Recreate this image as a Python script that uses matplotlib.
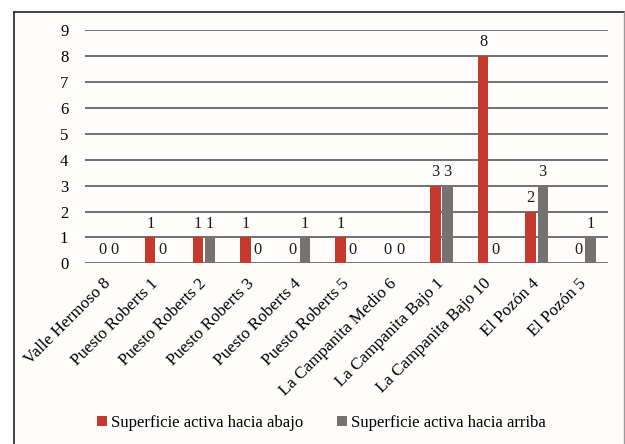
import matplotlib
matplotlib.use("Agg")
import matplotlib.pyplot as plt
from matplotlib.patches import Rectangle, Patch
import numpy as np

sitios = ["Valle Hermoso 8", "Puesto Roberts 1", "Puesto Roberts 2", "Puesto Roberts 3",
          "Puesto Roberts 4", "Puesto Roberts 5", "La Campanita Medio 6",
          "La Campanita Bajo 1", "La Campanita Bajo 10", "El Pozón 4", "El Pozón 5"]
hacia_abajo = [0, 1, 1, 1, 0, 1, 0, 3, 8, 2, 0]
hacia_arriba = [0, 0, 1, 0, 1, 0, 0, 3, 0, 3, 1]
serie_nombres = ["Superficie activa hacia abajo", "Superficie activa hacia arriba"]
y_ticks = list(range(0, 10))

ROJO = "#c63a2d"
GRIS = "#767270"
FONDO = "#fefdfb"

plt.rcParams["font.family"] = ["Liberation Serif", "DejaVu Serif"]

fig = plt.figure(figsize=(6.25, 4.44), dpi=100, facecolor="white")
W, H = 625, 444

# outer frame of the chart
fig.patches.append(Rectangle((13.5 / W, 0.0), (623.5 - 13.5) / W, 1 - 12.5 / H,
                             transform=fig.transFigure, facecolor=FONDO,
                             edgecolor="none", zorder=-10))
fig.add_artist(plt.Line2D([13.5 / W, 13.5 / W], [0, 1 - 12.5 / H], transform=fig.transFigure,
                          color="#222222", lw=1.2, zorder=-5))
fig.add_artist(plt.Line2D([13.5 / W, 623.5 / W], [1 - 12.5 / H, 1 - 12.5 / H],
                          transform=fig.transFigure, color="#222222", lw=1.2, zorder=-5))
fig.add_artist(plt.Line2D([623.5 / W, 623.5 / W], [0, 1 - 12.5 / H], transform=fig.transFigure,
                          color="#9a9a9a", lw=1.0, zorder=-5))

left, right = 85 / W, 608 / W
bottom, top = 1 - 263.3 / H, 1 - 30.3 / H
ax = fig.add_axes([left, bottom, right - left, top - bottom])
ax.set_facecolor("none")

x = np.arange(len(sitios))
w = 0.22
gap = 0.035
b1 = ax.bar(x - (w + gap) / 2, hacia_abajo, width=w, color=ROJO, zorder=3)
b2 = ax.bar(x + (w + gap) / 2, hacia_arriba, width=w, color=GRIS, zorder=3)

for bars, vals in ((b1, hacia_abajo), (b2, hacia_arriba)):
    for rect, v in zip(bars, vals):
        ax.text(rect.get_x() + rect.get_width() / 2, v + 0.22, f"{v}",
                ha="center", va="bottom", fontsize=11.8, color="#1a1a1a", zorder=4)

ax.set_xlim(-0.5, len(sitios) - 0.5)
ax.set_ylim(0, 9)
ax.set_yticks(y_ticks)
ax.set_yticklabels([str(t) for t in y_ticks], fontsize=12)
ax.yaxis.grid(True, color="#4a4a4a", lw=1.1, zorder=1)
ax.set_axisbelow(True)
ax.tick_params(axis="y", length=0, pad=12)
ax.tick_params(axis="x", length=0, pad=13)
for s in ax.spines.values():
    s.set_visible(False)

ax.set_xticks(x)
ax.set_xticklabels(sitios, rotation=45, ha="right", va="center",
                   rotation_mode="anchor", fontsize=12.3)

handles = [Patch(facecolor=ROJO), Patch(facecolor=GRIS)]
fig.legend(handles, serie_nombres, loc="center", bbox_to_anchor=(321.5 / W, 1 - 423 / H),
           ncol=2, frameon=False, fontsize=12.1, handlelength=0.6, handleheight=0.6,
           handletextpad=0.25, columnspacing=2.0)

fig.savefig("out.png", dpi=100, facecolor="white")
